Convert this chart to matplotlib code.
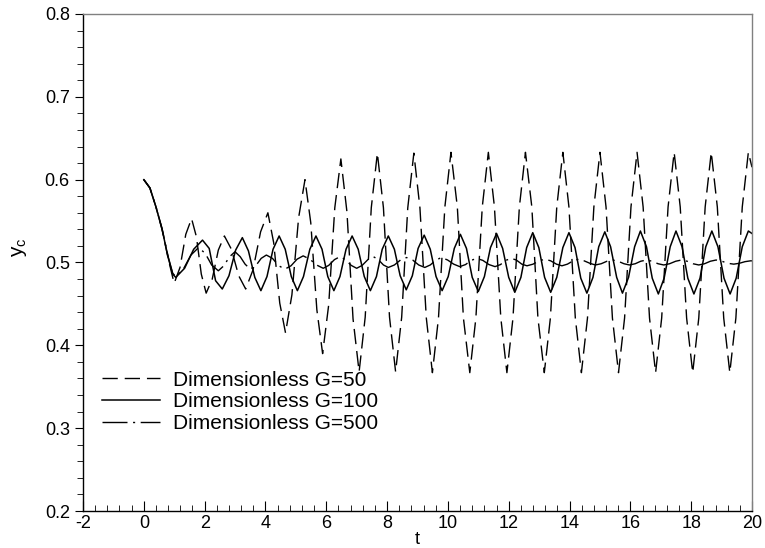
import matplotlib
matplotlib.use('Agg')
import matplotlib.pyplot as plt
from matplotlib.ticker import MultipleLocator

plt.rcParams['font.family'] = ['Liberation Sans', 'DejaVu Sans']
plt.rcParams['axes.unicode_minus'] = False

# G = 50 (dashed)
t_g50 = [0.0, 0.2, 0.4, 0.6, 0.8, 0.95, 1.00, 1.19, 1.38, 1.57, 1.73, 1.89, 2.05, 2.25, 2.45, 2.65,
         2.88, 3.12, 3.35, 3.59, 3.84, 4.08, 4.27, 4.47, 4.66, 4.87, 5.09, 5.30, 5.49, 5.69, 5.88,
         6.08, 6.28, 6.48, 6.68, 6.88, 7.08, 7.28, 7.48, 7.68, 7.88, 8.08, 8.28, 8.48, 8.68, 8.88,
         9.08, 9.29, 9.49, 9.69, 9.90, 10.10, 10.31, 10.51, 10.72, 10.92, 11.13, 11.33, 11.53, 11.74,
         11.94, 12.14, 12.35, 12.55, 12.76, 12.96, 13.17, 13.37, 13.58, 13.78, 13.98, 14.19, 14.39,
         14.59, 14.80, 15.00, 15.20, 15.41, 15.61, 15.81, 16.02, 16.22, 16.42, 16.63, 16.83, 17.03,
         17.24, 17.44, 17.64, 17.85, 18.05, 18.25, 18.46, 18.66, 18.86, 19.07, 19.27, 19.47, 19.68,
         19.88, 20.0]
y_g50 = [0.600, 0.590, 0.567, 0.540, 0.505, 0.482, 0.475, 0.494, 0.534, 0.553, 0.531, 0.486, 0.463, 0.480, 0.515, 0.532,
         0.516, 0.484, 0.468, 0.491, 0.537, 0.560, 0.524, 0.451, 0.415, 0.461, 0.554, 0.600, 0.548, 0.443, 0.390,
         0.449, 0.566, 0.625, 0.561, 0.432, 0.368, 0.434, 0.566, 0.632, 0.566, 0.434, 0.368, 0.434, 0.566, 0.632,
         0.566, 0.433, 0.367, 0.433, 0.567, 0.633, 0.567, 0.433, 0.367, 0.433, 0.567, 0.633, 0.567, 0.433,
         0.367, 0.433, 0.567, 0.633, 0.567, 0.433, 0.367, 0.433, 0.567, 0.633, 0.567, 0.433, 0.367,
         0.433, 0.567, 0.633, 0.567, 0.433, 0.367, 0.433, 0.567, 0.633, 0.567, 0.433, 0.367, 0.433,
         0.567, 0.633, 0.567, 0.433, 0.367, 0.433, 0.567, 0.633, 0.567, 0.433, 0.367, 0.433, 0.567,
         0.633, 0.615]

# G = 100 (solid)
t_g100 = [0.0, 0.2, 0.4, 0.6, 0.8, 0.95, 1.05, 1.34, 1.64, 1.93, 2.15, 2.36, 2.58, 2.80, 3.02, 3.24,
          3.44, 3.65, 3.85, 4.05, 4.25, 4.45, 4.65, 4.85, 5.05, 5.25, 5.46, 5.66, 5.86, 6.05, 6.25,
          6.45, 6.65, 6.85, 7.05, 7.25, 7.45, 7.65, 7.84, 8.04, 8.24, 8.43, 8.63, 8.83, 9.02, 9.22,
          9.42, 9.61, 9.81, 10.01, 10.21, 10.41, 10.61, 10.80, 11.00, 11.20, 11.40, 11.60, 11.80, 12.00,
          12.20, 12.40, 12.59, 12.79, 12.99, 13.18, 13.38, 13.58, 13.78, 13.98, 14.18, 14.37, 14.57,
          14.77, 14.96, 15.16, 15.35, 15.55, 15.74, 15.94, 16.14, 16.33, 16.53, 16.72, 16.92, 17.11,
          17.31, 17.50, 17.70, 17.89, 18.09, 18.29, 18.48, 18.68, 18.88, 19.08, 19.28, 19.48, 19.68,
          19.88, 20.0]
y_g100 = [0.600, 0.590, 0.567, 0.540, 0.506, 0.486, 0.482, 0.493, 0.516, 0.527, 0.517, 0.478, 0.468, 0.484, 0.515, 0.530,
          0.514, 0.482, 0.466, 0.483, 0.516, 0.532, 0.516, 0.483, 0.466, 0.483, 0.516, 0.532, 0.516, 0.483, 0.466,
          0.483, 0.516, 0.532, 0.516, 0.483, 0.466, 0.483, 0.516, 0.532, 0.516, 0.484, 0.467, 0.484, 0.517, 0.533,
          0.516, 0.483, 0.466, 0.483, 0.517, 0.534, 0.517, 0.482, 0.465, 0.483, 0.518, 0.535, 0.517, 0.482,
          0.464, 0.482, 0.518, 0.536, 0.518, 0.482, 0.464, 0.482, 0.518, 0.536, 0.518, 0.481, 0.463,
          0.482, 0.519, 0.537, 0.519, 0.482, 0.463, 0.482, 0.519, 0.538, 0.519, 0.481, 0.462, 0.481,
          0.519, 0.538, 0.519, 0.481, 0.462, 0.481, 0.519, 0.538, 0.519, 0.481, 0.462, 0.481, 0.519,
          0.538, 0.535]

# G = 500 (dash-dot)
t_g500 = [0.0, 0.2, 0.4, 0.6, 0.8, 0.95, 1.05, 1.30, 1.55, 1.80, 2.02, 2.23, 2.45, 2.63, 2.82, 3.00,
          3.17, 3.33, 3.50, 3.68, 3.86, 4.03, 4.23, 4.44, 4.64, 4.84, 5.04, 5.24, 5.46, 5.68, 5.90,
          6.08, 6.27, 6.45, 6.63, 6.82, 7.00, 7.18, 7.37, 7.55, 7.71, 7.88, 8.04, 8.24, 8.44, 8.64,
          8.84, 9.04, 9.24, 9.42, 9.61, 9.79, 9.99, 10.19, 10.39, 10.58, 10.76, 10.95, 11.15, 11.35,
          11.55, 11.73, 11.90, 12.08, 12.25, 12.43, 12.60, 12.80, 13.00, 13.20, 13.38, 13.57, 13.75,
          13.93, 14.12, 14.30, 14.48, 14.67, 14.85, 15.04, 15.23, 15.42, 15.60, 15.79, 15.97, 16.16,
          16.34, 16.53, 16.72, 16.91, 17.10, 17.29, 17.49, 17.68, 17.87, 18.06, 18.25, 18.44, 18.63,
          18.82, 19.01, 19.21, 19.40, 19.58, 19.77, 19.95, 20.0]
y_g500 = [0.600, 0.590, 0.567, 0.541, 0.507, 0.487, 0.483, 0.492, 0.509, 0.518, 0.511, 0.497, 0.490, 0.496, 0.507, 0.513,
          0.507, 0.498, 0.492, 0.496, 0.505, 0.509, 0.505, 0.496, 0.492, 0.496, 0.504, 0.508, 0.504, 0.497, 0.493,
          0.4965, 0.5035, 0.507, 0.5035, 0.4965, 0.493, 0.4965, 0.5035, 0.507, 0.5035, 0.497, 0.494, 0.497, 0.503, 0.506,
          0.503, 0.497, 0.494, 0.497, 0.503, 0.506, 0.503, 0.498, 0.495, 0.4975, 0.5025, 0.505, 0.5025, 0.4975,
          0.495, 0.4975, 0.5025, 0.505, 0.503, 0.498, 0.496, 0.498, 0.502, 0.504, 0.502, 0.498, 0.496,
          0.498, 0.502, 0.504, 0.502, 0.499, 0.497, 0.4985, 0.5015, 0.503, 0.5015, 0.4985, 0.497, 0.4985,
          0.5015, 0.503, 0.5015, 0.4985, 0.497, 0.4985, 0.5015, 0.503, 0.5015, 0.4985, 0.497, 0.4985, 0.5015,
          0.503, 0.5015, 0.499, 0.498, 0.499, 0.501, 0.502, 0.502]

labels = ['Dimensionless G=50', 'Dimensionless G=100', 'Dimensionless G=500']

fig = plt.figure(figsize=(7.65, 5.48), dpi=100)
# axes box: x from px 83 to 752, y from px 14 to 511
ax = fig.add_axes([0.1085, 0.0675, 0.8745, 0.907])

ax.plot(t_g50, y_g50, color='black', lw=1.0, linestyle=(0, (11, 5)), label=labels[0])
ax.plot(t_g100, y_g100, color='black', lw=1.1, linestyle='-', label=labels[1])
ax.plot(t_g500, y_g500, color='black', lw=1.0, linestyle=(0, (18, 4, 1.5, 4)), label=labels[2])

ax.set_xlim(-2, 20)
ax.set_ylim(0.2, 0.8)
ax.xaxis.set_major_locator(MultipleLocator(2))
ax.xaxis.set_minor_locator(MultipleLocator(0.4))
ax.yaxis.set_major_locator(MultipleLocator(0.1))
ax.yaxis.set_minor_locator(MultipleLocator(0.02))
ax.set_yticklabels(['%.1f' % v for v in ax.get_yticks()])

ax.tick_params(axis='x', which='both', direction='in', top=False, labelsize=13, pad=3)
ax.tick_params(axis='x', which='major', length=7)
ax.tick_params(axis='x', which='minor', length=4)
ax.tick_params(axis='y', which='both', direction='out', right=False, labelsize=13)
ax.tick_params(axis='y', which='major', length=6)
ax.tick_params(axis='y', which='minor', length=4)

for s in ['top', 'right']:
    ax.spines[s].set_color('#808080')
for s in ax.spines.values():
    s.set_linewidth(1.0)

ax.set_xlabel('t', fontsize=13, labelpad=-1)
ax.set_ylabel(r'$\mathregular{y_c}$', fontsize=15)
ax.yaxis.set_label_coords(-0.08, 0.53)

ax.legend(loc='upper left', bbox_to_anchor=(0.0, 0.32), frameon=False, fontsize=15,
          handlelength=2.8, handletextpad=0.6, labelspacing=0.13)

fig.savefig('out.png', dpi=100)
